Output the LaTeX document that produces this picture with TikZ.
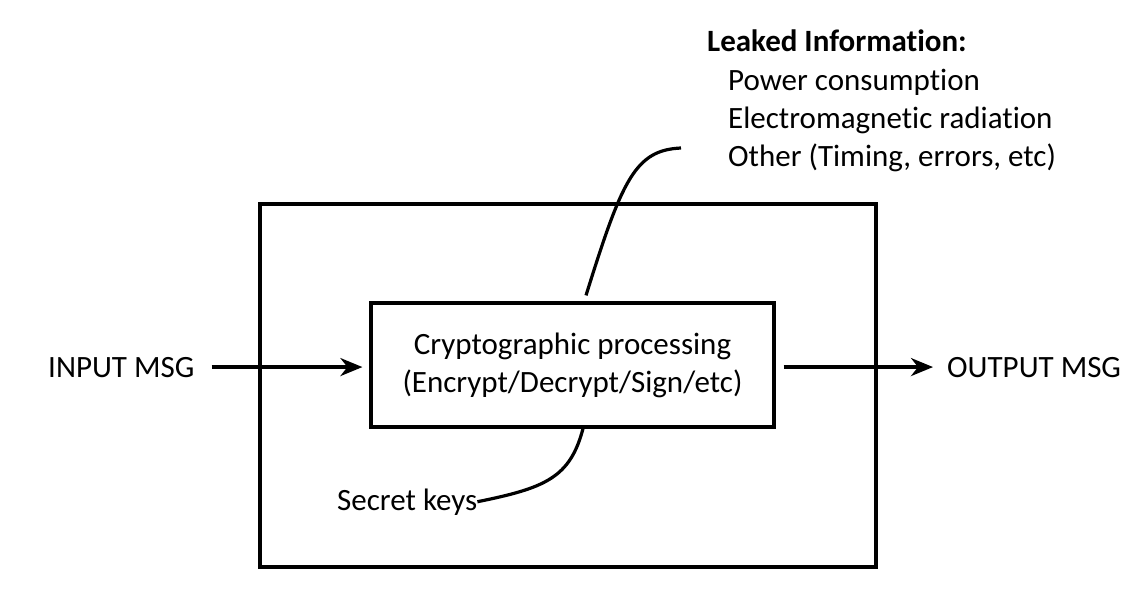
\documentclass[tikz,border=0pt]{standalone}
\usepackage{fontspec}
\setmainfont{Carlito}[Ligatures={NoCommon}]
\usetikzlibrary{arrows.meta}
\tikzset{
  lbl/.style={inner sep=0pt, font=\fontsize{31}{38}\selectfont},
  boxline/.style={draw=black, line width=3.2pt},
  conn/.style={draw=black, line width=3.2pt},
  arr/.style={conn, -{Stealth[length=22pt,width=18pt,inset=7pt]}},
}
\begin{document}
\begin{tikzpicture}[x=1pt,y=-1pt]
\useasboundingbox (0,0) rectangle (1144,603);
% outer box
\node[boxline, rectangle, minimum width=616pt, minimum height=363pt, inner sep=0pt] (outer) at (568,385.5) {};
% inner box
\node[boxline, rectangle, minimum width=403pt, minimum height=124pt, inner sep=0pt,
      lbl, align=center] (crypto) at (572.5,365) {Cryptographic processing\\(Encrypt/Decrypt/Sign/etc)};
% texts
\node[lbl, anchor=base west] (inmsg) at (48,377) {INPUT MSG};
\node[lbl, anchor=base west] (outmsg) at (947,377) {OUTPUT MSG};
\node[lbl, anchor=base west] (keys) at (337,510) {Secret keys};
\node[lbl, anchor=base west, font=\fontsize{31}{38}\selectfont\bfseries] (leaked) at (707,51) {Leaked Information:};
\node[lbl, anchor=base west] (power) at (728,90) {Power consumption};
\node[lbl, anchor=base west] (em) at (728,128) {Electromagnetic radiation};
\node[lbl, anchor=base west] (other) at (728,166) {Other (Timing, errors, etc)};
% connectors
\draw[arr, shorten <=17pt, shorten >=7pt] (inmsg.east) -- (inmsg.east -| crypto.west);
\draw[arr, shorten <=8pt, shorten >=14pt] (crypto.east |- outmsg.west) -- (outmsg.west);
\coordinate (leakend) at (681,148);
\draw[conn] ([xshift=13.5pt,yshift=6pt]crypto.north) .. controls (622,180) and (635,150) .. (leakend);
\draw[conn] ([xshift=10.5pt]crypto.south) .. controls (570,478) and (545,488) .. (keys.east);
\end{tikzpicture}
\end{document}
